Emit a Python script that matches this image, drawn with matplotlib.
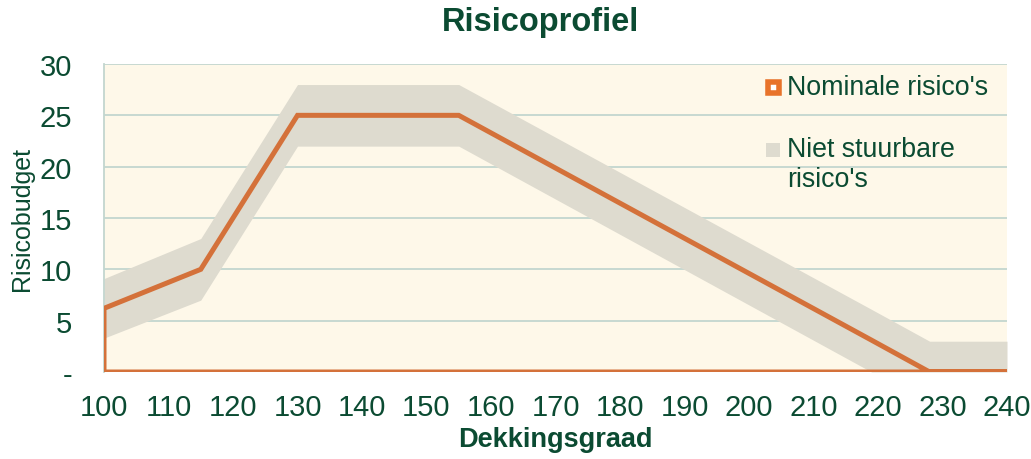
import matplotlib
matplotlib.use("Agg")
import matplotlib.pyplot as plt
from matplotlib.patches import Rectangle

plt.rcParams['font.family'] = ['Liberation Sans', 'DejaVu Sans']

# Dekkingsgraad (x) en risicobudget (y)
dekking = [100, 115, 130, 155, 219, 228, 230, 240]
nominaal = [6.2, 10, 25, 25, 3.1, 0, 0, 0]
band_onder = [3.3, 7, 22, 22, 0, 0, 0, 0]
band_boven = [9.1, 13, 28, 28, 6.1, 3.0, 3.0, 3.0]

x_ticks = list(range(100, 241, 10))
y_ticks = [0, 5, 10, 15, 20, 25, 30]
y_labels = ['-', '5', '10', '15', '20', '25', '30']

groen = '#0B4B32'
oranje = '#D4713A'
grijs = '#DEDBCF'

fig = plt.figure(figsize=(10.31, 4.6), dpi=100)
ax = fig.add_axes([104/1031, 1 - 373/460, (1007 - 104)/1031, (373 - 65)/460])
ax.set_facecolor('#FEF8E9')

ax.fill_between(dekking, band_onder, band_boven, color=grijs, lw=0, zorder=2)
ax.fill_between(dekking, 0, nominaal, facecolor='none', edgecolor=oranje, lw=3.6,
                joinstyle='miter', zorder=3)

ax.set_xlim(100, 240)
ax.set_ylim(0, 30)
ax.set_xticks(x_ticks)
ax.set_yticks(y_ticks)
ax.set_yticklabels(y_labels)
ax.tick_params(axis='both', length=0, labelsize=21, labelcolor=groen)
ax.tick_params(axis='x', pad=15)
ax.tick_params(axis='y', pad=23)
ax.grid(axis='y', color='#C3D6CF', lw=1.3, zorder=1)
for s in ['top', 'right', 'bottom']:
    ax.spines[s].set_visible(False)
ax.spines['left'].set_color('#C3D6CF')
ax.spines['left'].set_linewidth(1.3)

ax.set_xlabel('Dekkingsgraad', fontsize=19.5, fontweight='bold', color=groen, labelpad=4)
ax.set_ylabel('Risicobudget', fontsize=18, color=groen)
ax.yaxis.set_label_coords(-70/903, 0.5)
fig.text(540/1031, 1 - 22/460, 'Risicoprofiel', fontsize=23.5, fontweight='bold',
         color=groen, ha='center', va='center')

# legenda (zonder kader, rechtsboven in de grafiek)
ax.add_patch(Rectangle((0.7358, 0.906), 0.0122, 0.036, transform=ax.transAxes,
                       facecolor='white', edgecolor='#E8732A', lw=4, zorder=5))
ax.add_patch(Rectangle((0.7326, 0.698), 0.0155, 0.046, transform=ax.transAxes,
                       facecolor=grijs, edgecolor='none', zorder=5))
ax.text(0.7564, 0.925, "Nominale risico's", transform=ax.transAxes, fontsize=19.3,
        color=groen, va='center', ha='left')
ax.text(0.7564, 0.724, "Niet stuurbare", transform=ax.transAxes, fontsize=19.3,
        color=groen, va='center', ha='left')
ax.text(0.7564, 0.627, "risico's", transform=ax.transAxes, fontsize=19.3,
        color=groen, va='center', ha='left')

fig.savefig('out.png', dpi=100)
